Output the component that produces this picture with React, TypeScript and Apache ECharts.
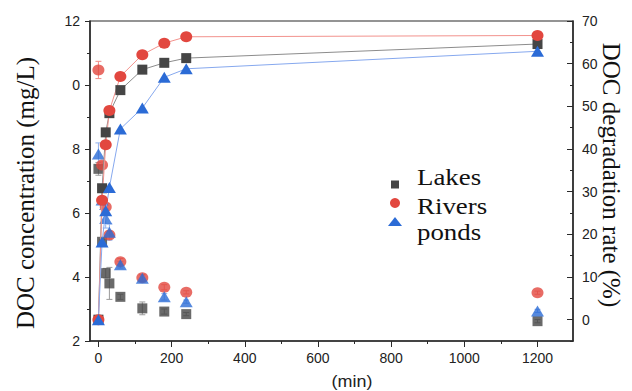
import React, { useEffect, useRef } from "react";
import * as echarts from "echarts";

// ---- data ----
const times = [0, 10, 20, 30, 60, 120, 180, 240, 1200];

const lakesConc = [7.38, 5.1, 4.12, 3.8, 3.38, 3.02, 2.92, 2.84, 2.62];
const riversConc = [10.47, 7.5, 6.19, 5.31, 4.48, 3.98, 3.68, 3.52, 3.51];
const pondsConc = [7.84, 6.41, 5.83, 5.4, 4.38, 3.96, 3.38, 3.23, 2.94];

const lakesConcErr = [0.2, 0.06, 0.15, 0.5, 0.08, 0.2, 0.08, 0.05, 0.05];
const riversConcErr = [0.27, 0.1, 0.1, 0.12, 0.1, 0.1, 0.08, 0.05, 0.05];
const pondsConcErr = [0.35, 0.3, 0.3, 0.25, 0.1, 0.1, 0.1, 0.05, 0.05];

const lakesRate = [0, 30.8, 43.9, 48.4, 53.8, 58.6, 60.2, 61.3, 64.6];
const riversRate = [0, 28.0, 41.0, 49.0, 57.0, 62.1, 64.8, 66.3, 66.6];
const pondsRate = [0, 18.2, 25.5, 31.0, 44.7, 49.6, 56.8, 58.8, 62.9];

const seriesNames = ["Lakes", "Rivers", "ponds"];
const leftTicks = [2, 4, 6, 8, 10, 12];
const rightTicks = [0, 10, 20, 30, 40, 50, 60, 70];
const xMajorTicks = [0, 200, 400, 600, 800, 1000, 1200];
const xMinorTicks = [0, 100, 200, 300, 400, 500, 600, 700, 800, 900, 1000, 1100, 1200];

const leftTitle = "DOC concentration (mg/L)";
const rightTitle = "DOC degradation rate (%)";
const xTitle = "(min)";

// ---- styles ----
const RED = "#e2473f";
const BLUE = "#2b6bd6";
const DARK = "#454545";
const AXIS = "#2a2a2a";
const SANS = "Liberation Sans";
const SERIF = "Liberation Serif";

function errData(conc: number[], err: number[]) {
  return times.map((t, i) => [t, conc[i] - err[i], conc[i] + err[i]]);
}

function errSeries(conc: number[], err: number[], color: string) {
  return {
    type: "custom",
    xAxisIndex: 0,
    yAxisIndex: 0,
    z: 1,
    silent: true,
    encode: { x: 0, y: [1, 2] },
    data: errData(conc, err),
    renderItem: (params: any, api: any) => {
      const x = api.value(0);
      const lo = api.coord([x, api.value(1)]);
      const hi = api.coord([x, api.value(2)]);
      const st = { stroke: color, lineWidth: 1 };
      return {
        type: "group",
        children: [
          { type: "line", shape: { x1: lo[0], y1: lo[1], x2: hi[0], y2: hi[1] }, style: st },
          { type: "line", shape: { x1: lo[0] - 3, y1: lo[1], x2: lo[0] + 3, y2: lo[1] }, style: st },
          { type: "line", shape: { x1: hi[0] - 3, y1: hi[1], x2: hi[0] + 3, y2: hi[1] }, style: st },
        ],
      };
    },
  };
}

function pts(vals: number[]) {
  return times.map((t, i) => [t, vals[i]]);
}

export default function App() {
  const ref = useRef<HTMLDivElement>(null);

  useEffect(() => {
    if (!ref.current) return;
    const chart = echarts.init(ref.current, null, { renderer: "svg" });

    const tickLabel = { color: "#222", fontFamily: SANS, fontSize: 14 };

    const textStyle = (size: number, family: string) => ({
      fontSize: size,
      fontFamily: family,
      fill: "#111",
    });

    chart.setOption({
      animation: false,
      backgroundColor: "#ffffff",
      grid: {
        left: 90,
        top: 21,
        width: 483,
        height: 320,
        show: true,
        borderColor: AXIS,
        borderWidth: 1.2,
        backgroundColor: "transparent",
      },
      xAxis: [
        {
          type: "value",
          min: -23,
          max: 1297,
          position: "bottom",
          axisLine: { show: true, onZero: false, lineStyle: { color: AXIS, width: 1.5 } },
          axisTick: { show: true, length: 3, customValues: xMinorTicks, lineStyle: { color: AXIS } },
          axisLabel: {
            ...tickLabel,
            margin: 10,
            customValues: xMajorTicks,
            formatter: (v: number) => String(v),
          },
          splitLine: { show: false },
        },
        {
          type: "value",
          min: -23,
          max: 1297,
          position: "bottom",
          axisLine: { show: false, onZero: false },
          axisTick: { show: true, length: 6, customValues: xMajorTicks, lineStyle: { color: AXIS } },
          axisLabel: { show: false },
          splitLine: { show: false },
        },
      ],
      yAxis: [
        {
          type: "value",
          min: 2,
          max: 12,
          interval: 2,
          position: "left",
          axisLine: { show: true, onZero: false, lineStyle: { color: AXIS, width: 1.5 } },
          axisTick: { show: true, length: 5, lineStyle: { color: AXIS } },
          minorTick: { show: true, splitNumber: 2, length: 3, lineStyle: { color: AXIS } },
          axisLabel: {
            ...tickLabel,
            margin: 10,
            customValues: leftTicks,
            formatter: (v: number) => (v === 10 ? "0" : String(v)),
          },
          splitLine: { show: false },
        },
        {
          type: "value",
          min: -5,
          max: 70,
          interval: 5,
          position: "right",
          axisLine: { show: true, onZero: false, lineStyle: { color: AXIS, width: 1.5 } },
          axisTick: { show: true, inside: true, length: 3, lineStyle: { color: AXIS } },
          axisLabel: { show: false },
          splitLine: { show: false },
        },
        {
          type: "value",
          min: -5,
          max: 70,
          position: "right",
          axisLine: { show: false, onZero: false },
          axisTick: { show: true, inside: true, length: 6, customValues: rightTicks, lineStyle: { color: AXIS } },
          axisLabel: { ...tickLabel, margin: 9, customValues: rightTicks },
          splitLine: { show: false },
        },
      ],
      series: [
        errSeries(lakesConc, lakesConcErr, "#9a9a9a"),
        errSeries(riversConc, riversConcErr, "#f08a85"),
        errSeries(pondsConc, pondsConcErr, "#8fb0ee"),
        {
          name: seriesNames[0] + " concentration",
          type: "scatter",
          xAxisIndex: 0,
          yAxisIndex: 0,
          symbol: "rect",
          symbolSize: 10,
          itemStyle: { color: DARK },
          data: pts(lakesConc),
          z: 3,
        },
        {
          name: seriesNames[1] + " concentration",
          type: "scatter",
          xAxisIndex: 0,
          yAxisIndex: 0,
          symbol: "circle",
          symbolSize: [12, 11],
          itemStyle: { color: RED },
          data: pts(riversConc),
          z: 3,
        },
        {
          name: seriesNames[2] + " concentration",
          type: "scatter",
          xAxisIndex: 0,
          yAxisIndex: 0,
          symbol: "triangle",
          symbolSize: [13, 11],
          itemStyle: { color: BLUE },
          data: pts(pondsConc),
          z: 3,
        },
        {
          name: seriesNames[0] + " rate",
          type: "line",
          xAxisIndex: 0,
          yAxisIndex: 1,
          symbol: "rect",
          symbolSize: 10,
          showSymbol: true,
          itemStyle: { color: DARK },
          lineStyle: { color: "#8c8c8c", width: 1 },
          data: pts(lakesRate),
          z: 4,
        },
        {
          name: seriesNames[1] + " rate",
          type: "line",
          xAxisIndex: 0,
          yAxisIndex: 1,
          symbol: "circle",
          symbolSize: [12, 11],
          showSymbol: true,
          itemStyle: { color: RED },
          lineStyle: { color: "#f2928d", width: 1 },
          data: pts(riversRate),
          z: 4,
        },
        {
          name: seriesNames[2] + " rate",
          type: "line",
          xAxisIndex: 0,
          yAxisIndex: 1,
          symbol: "triangle",
          symbolSize: [13, 11],
          showSymbol: true,
          itemStyle: { color: BLUE },
          lineStyle: { color: "#86a8ee", width: 1 },
          data: pts(pondsRate),
          z: 4,
        },
      ],
      graphic: [
        {
          type: "text",
          x: 25,
          y: 193,
          rotation: Math.PI / 2,
          style: { text: leftTitle, ...textStyle(25, SERIF), align: "center", verticalAlign: "middle" },
        },
        {
          type: "text",
          x: 611,
          y: 175,
          rotation: -Math.PI / 2,
          style: { text: rightTitle, ...textStyle(25, SERIF), align: "center", verticalAlign: "middle" },
        },
        {
          type: "text",
          x: 352,
          y: 382,
          scaleX: 1.12,
          style: { text: xTitle, ...textStyle(16, SANS), fill: "#222", align: "center", verticalAlign: "middle" },
        },
        // legend
        { type: "rect", shape: { x: 391, y: 180.5, width: 8, height: 8 }, style: { fill: DARK } },
        { type: "circle", shape: { cx: 395, cy: 203, r: 5 }, style: { fill: RED } },
        {
          type: "polygon",
          shape: { points: [[388, 226], [402, 226], [395, 217]] },
          style: { fill: BLUE },
        },
        {
          type: "text",
          x: 417,
          y: 177,
          scaleX: 1.12,
          style: { text: seriesNames[0], ...textStyle(24, SERIF), align: "left", verticalAlign: "middle" },
        },
        {
          type: "text",
          x: 417,
          y: 206,
          scaleX: 1.12,
          style: { text: seriesNames[1], ...textStyle(24, SERIF), align: "left", verticalAlign: "middle" },
        },
        {
          type: "text",
          x: 417,
          y: 232,
          scaleX: 1.12,
          style: { text: seriesNames[2], ...textStyle(24, SERIF), align: "left", verticalAlign: "middle" },
        },
      ],
    });

    return () => chart.dispose();
  }, []);

  return (
    <div
      ref={ref}
      style={{ position: "fixed", left: 0, top: 0, width: 632, height: 391, background: "#fff" }}
    />
  );
}
